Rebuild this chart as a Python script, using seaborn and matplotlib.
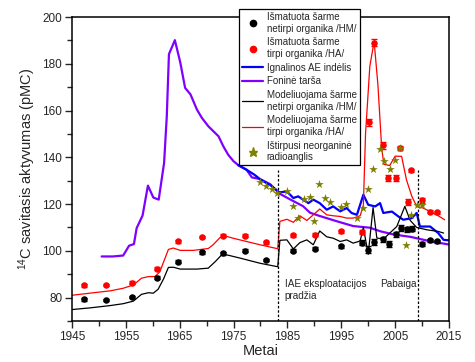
import matplotlib
matplotlib.use("Agg")
import matplotlib.pyplot as plt
from matplotlib.lines import Line2D
from matplotlib.ticker import MultipleLocator
import seaborn as sns

# ---------------- data ----------------
bg_years = [1950.5, 1952.6, 1954.5, 1955.6, 1956.5, 1957.0, 1958.1, 1959.1, 1960.1, 1961.1,
            1962.1, 1962.6, 1963.0, 1964.1, 1965.1, 1966.0, 1967.0, 1968.2, 1969.1, 1970.3,
            1972.2, 1973.1, 1974.0, 1975.0, 1975.9, 1977.4, 1978.4, 1979.9, 1981.8, 1983.5,
            1985.5, 1987.9, 1989.2, 1991.0, 1994.1, 1997.2, 2000.3, 2002.2, 2004.7, 2007.8,
            2011.5, 2015.0]
bg_vals = [97.6, 97.6, 98.0, 102.2, 102.9, 109.7, 115.1, 127.9, 122.8, 121.9,
           137.6, 157.6, 184.1, 190.1, 180.6, 169.7, 166.9, 160.4, 156.9, 153.3,
           149.0, 144.7, 141.1, 138.3, 136.6, 134.7, 131.4, 130.7, 128.5, 124.5,
           122.0, 119.1, 116.3, 114.9, 112.7, 110.6, 109.9, 108.4, 107.0, 106.0,
           104.1, 102.7]

iae_years = [1975.9, 1977.4, 1978.9, 1980.0, 1982.0, 1983.5, 1984.9, 1986.1, 1987.0, 1987.9,
             1988.9, 1989.8, 1991.0, 1992.3, 1993.5, 1994.8, 1996.0, 1996.9, 1997.9, 1999.1,
             2000.0, 2001.3, 2002.2, 2002.8, 2004.4, 2005.6, 2006.5, 2008.1, 2009.0, 2009.6,
             2011.5, 2013.0, 2014.0, 2015.0]
iae_vals = [136.6, 134.7, 132.5, 130.5, 127.8, 125.0, 125.4, 122.6, 123.3, 121.9,
            120.4, 121.9, 120.4, 117.6, 119.0, 116.9, 118.3, 116.2, 115.4, 124.0,
            119.7, 119.0, 120.4, 116.2, 116.8, 114.7, 113.3, 114.0, 116.2, 110.4,
            110.4, 107.6, 104.7, 104.5]

hm_mod_years = [1945.0, 1948.3, 1952.1, 1954.5, 1956.4, 1957.9, 1959.2, 1960.1, 1961.0, 1962.0,
                1962.9, 1963.8, 1965.1, 1968.2, 1970.3, 1971.6, 1972.8, 1973.7, 1976.2, 1979.9,
                1983.2, 1983.6, 1984.9, 1986.1, 1987.3, 1988.6, 1989.8, 1991.0, 1992.3, 1993.5,
                1994.8, 1996.0, 1997.2, 1998.5, 1999.1, 2000.0, 2000.9, 2001.6, 2002.8, 2004.0,
                2005.3, 2006.8, 2007.8, 2009.0, 2010.9, 2013.0, 2014.0]
hm_mod_vals = [74.9, 75.6, 76.6, 77.4, 78.5, 81.4, 82.1, 81.9, 83.6, 88.0,
               92.9, 93.0, 92.2, 92.2, 92.6, 95.4, 98.3, 98.3, 96.9, 94.7,
               93.2, 104.5, 104.7, 100.8, 103.5, 104.7, 102.6, 108.5, 106.0, 105.4,
               104.0, 104.7, 103.3, 104.2, 110.0, 98.5, 118.5, 105.5, 105.0, 107.6,
               110.4, 119.0, 113.0, 110.0, 109.0, 108.3, 107.6]

ha_mod_years = [1945.0, 1948.3, 1952.1, 1954.5, 1956.4, 1957.9, 1959.2, 1960.4, 1961.3, 1962.9,
                1963.8, 1965.1, 1967.5, 1970.3, 1971.2, 1972.5, 1973.4, 1974.9, 1977.4, 1979.9,
                1983.2, 1983.6, 1984.9, 1986.1, 1987.3, 1988.6, 1989.8, 1991.0, 1992.3, 1993.5,
                1994.8, 1996.0, 1997.2, 1998.5, 1999.1, 1999.5, 2000.3, 2001.1, 2001.8, 2002.5,
                2002.9, 2004.0, 2005.0, 2006.2, 2007.1, 2008.1, 2009.0, 2010.2, 2011.5, 2012.7,
                2014.2]
ha_mod_vals = [81.0, 81.9, 82.9, 84.0, 85.4, 88.3, 89.0, 89.0, 91.0, 100.6,
               101.2, 100.2, 100.2, 101.0, 102.6, 105.7, 106.4, 105.4, 104.0, 102.6,
               100.9, 112.6, 113.5, 112.2, 115.0, 113.0, 115.4, 117.9, 115.4, 115.0,
               114.7, 114.0, 114.0, 115.0, 119.5, 150.0, 179.0, 189.5, 171.0, 144.0,
               137.0, 136.5, 140.5, 140.4, 130.4, 123.3, 119.0, 118.3, 116.8, 115.4,
               113.3]

hm_years = [1947.2, 1951.3, 1956.1, 1960.8, 1964.7, 1969.1, 1973.1, 1977.1, 1981.1, 1986.1,
            1990.2, 1994.9, 1998.8, 2000.0, 2001.0, 2002.8, 2003.8, 2005.2, 2006.0, 2007.2,
            2008.1, 2009.9, 2011.5, 2012.7]
hm_vals = [79.2, 79.0, 80.3, 88.5, 95.4, 99.3, 99.0, 100.1, 96.1, 100.0,
           101.0, 102.0, 103.5, 100.5, 103.8, 104.9, 103.0, 107.0, 109.7, 109.2,
           109.5, 102.8, 104.5, 104.1]
hm_err = [0.6, 0.6, 0.6, 0.6, 0.6, 0.6, 0.6, 0.6, 0.6, 0.6,
          0.6, 0.6, 1.2, 1.5, 1.2, 1.2, 1.2, 1.2, 1.2, 1.2,
          1.2, 0.8, 0.6, 0.6]

ha_years = [1947.2, 1951.3, 1956.1, 1960.8, 1964.7, 1969.1, 1973.1, 1977.1, 1981.1, 1986.1,
            1990.2, 1994.9, 1998.9, 2000.2, 2001.1, 2002.8, 2003.7, 2005.1, 2005.9, 2007.3,
            2007.9, 2009.9, 2011.5, 2012.7]
ha_vals = [85.3, 85.4, 86.4, 92.3, 104.0, 105.9, 106.4, 106.4, 103.7, 106.6,
           106.9, 108.3, 108.0, 155.0, 189.0, 145.2, 131.2, 131.2, 144.0, 121.0,
           134.4, 121.6, 116.8, 116.4]
ha_err = [0.6, 0.6, 0.6, 0.6, 0.6, 0.6, 0.6, 0.6, 0.6, 0.6,
          0.6, 0.6, 1.0, 1.5, 1.5, 1.5, 1.3, 1.3, 1.0, 1.3,
          0.6, 1.0, 0.6, 0.6]

dic_years = [1980.0, 1981.1, 1982.1, 1983.0, 1985.0, 1986.0, 1987.0, 1988.1, 1989.1, 1990.0,
             1990.9, 1992.0, 1992.9, 1994.9, 1995.9, 1998.0, 1999.1, 2000.0, 2000.9, 2002.1,
             2003.0, 2004.0, 2005.0, 2005.9, 2007.0, 2008.0, 2009.0, 2009.9]
dic_vals = [129.6, 127.9, 126.6, 124.6, 125.6, 119.2, 114.0, 122.1, 123.0, 112.9,
            128.6, 122.6, 121.1, 118.6, 120.0, 114.2, 118.3, 126.3, 135.0, 143.4,
            138.4, 135.2, 138.8, 144.0, 102.5, 115.4, 119.7, 119.7]

event_years = [1983.3, 2009.2]
event_labels = ["IAE eksploatacijos\npradžia", "Pabaiga"]

x_ticks = [1945, 1955, 1965, 1975, 1985, 1995, 2005, 2015]
y_ticks = [80, 100, 120, 140, 160, 180, 200]

labels = ["Išmatuota šarme\nnetirpi organika /HM/",
          "Išmatuota šarme\ntirpi organika /HA/",
          "Ignalinos AE indėlis",
          "Foninė tarša",
          "Modeliuojama šarme\nnetirpi organika /HM/",
          "Modeliuojama šarme\ntirpi organika /HA/",
          "Ištirpusi neorganinė\nradioanglis"]

# ---------------- style ----------------
sns.set_theme(style="ticks")
plt.rcParams["font.family"] = ["Liberation Sans", "DejaVu Sans"]
plt.rcParams["mathtext.default"] = "regular"

PURPLE = "#7F00FF"
BLUE = "#0000FF"
RED = "#FF0000"
BLACK = "#000000"
OLIVE = "#808000"

fig = plt.figure(figsize=(4.75, 3.62), dpi=100)
ax = fig.add_axes([72 / 475, 41 / 362, 377 / 475, 304 / 362])

sns.lineplot(x=bg_years, y=bg_vals, ax=ax, color=PURPLE, lw=1.6, estimator=None, sort=False)
sns.lineplot(x=iae_years, y=iae_vals, ax=ax, color=BLUE, lw=1.6, estimator=None, sort=False)
sns.lineplot(x=hm_mod_years, y=hm_mod_vals, ax=ax, color=BLACK, lw=0.9, estimator=None, sort=False)
sns.lineplot(x=ha_mod_years, y=ha_mod_vals, ax=ax, color=RED, lw=0.9, estimator=None, sort=False)

ax.errorbar(hm_years, hm_vals, yerr=hm_err, fmt="none", ecolor=BLACK, elinewidth=1.0, capsize=2.5, capthick=1.0)
ax.errorbar(ha_years, ha_vals, yerr=ha_err, fmt="none", ecolor=RED, elinewidth=1.0, capsize=2.5, capthick=1.0)
sns.scatterplot(x=hm_years, y=hm_vals, ax=ax, color=BLACK, marker="o", s=22, linewidth=0, zorder=5)
sns.scatterplot(x=ha_years, y=ha_vals, ax=ax, color=RED, marker="o", s=22, linewidth=0, zorder=5)
sns.scatterplot(x=dic_years, y=dic_vals, ax=ax, color=OLIVE, marker="*", s=42, linewidth=0, zorder=6)

for yr in event_years:
    ax.plot([yr, yr], [70, 134.7], color=BLACK, lw=0.9, ls=(0, (2, 1.5)))
ax.text(event_years[0] + 1.2, 88.0, event_labels[0], fontsize=7.2,
        va="top", ha="left", linespacing=1.3)
ax.text(event_years[1] - 0.2, 88.0, event_labels[1], fontsize=7.2,
        va="top", ha="right")

ax.set_xlim(1945, 2015)
ax.set_ylim(70, 200)
ax.set_xticks(x_ticks)
ax.set_yticks(y_ticks)
ax.xaxis.set_minor_locator(MultipleLocator(5))
ax.yaxis.set_minor_locator(MultipleLocator(10))
ax.tick_params(axis="both", which="major", labelsize=8.5, length=5, width=1, direction="out", pad=2,
               top=False, right=False)
ax.tick_params(axis="both", which="minor", length=3.5, width=1, direction="out", top=False, right=False)
for sp in ax.spines.values():
    sp.set_visible(True)
    sp.set_linewidth(1.1)
    sp.set_color("black")

ax.set_xlabel("Metai", fontsize=10.5, labelpad=1)
ax.set_ylabel(r"$^{14}$C savitasis aktyvumas (pMC)", fontsize=10.5, labelpad=3)

handles = [
    Line2D([], [], color=BLACK, marker="o", ls="none", markersize=4.5),
    Line2D([], [], color=RED, marker="o", ls="none", markersize=4.5),
    Line2D([], [], color=BLUE, lw=1.6),
    Line2D([], [], color=PURPLE, lw=1.6),
    Line2D([], [], color=BLACK, lw=0.9),
    Line2D([], [], color=RED, lw=0.9),
    Line2D([], [], color=OLIVE, marker="*", ls="none", markersize=6.5),
]
leg = ax.legend(handles, labels, loc="upper left", bbox_to_anchor=(0.443, 1.026),
                fontsize=7.0,
                frameon=True, fancybox=False, edgecolor="black", framealpha=1, borderpad=0.3,
                labelspacing=0.38, handlelength=2.2, handletextpad=0.35, borderaxespad=0)
leg.get_frame().set_linewidth(0.9)
leg.set_zorder(10)

fig.savefig("out.png", dpi=100)
